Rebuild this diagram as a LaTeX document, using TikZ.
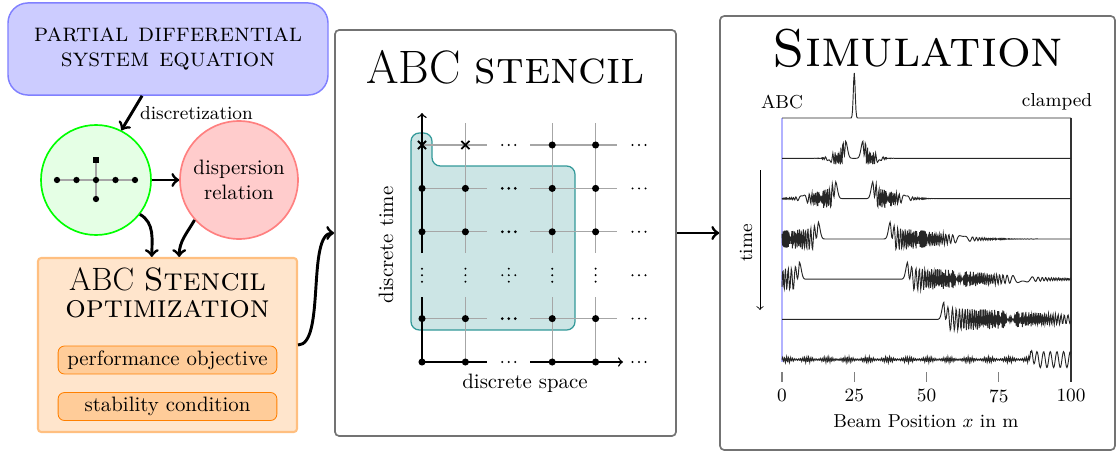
\documentclass[tikz,border=0pt]{standalone}
\usetikzlibrary{shapes.misc}
\begin{document}
\begin{tikzpicture}
  [x=0.48pt,y=0.48pt,
   flow/.style={->,line width=1.4pt},
   panel/.style={draw=black!55,line width=0.8pt,rounded corners=2pt},
   gridline/.style={black!35,line width=0.5pt},
   axis/.style={black,line width=0.7pt},
   dot/.style={circle,fill,inner sep=0pt,minimum size=3.4pt},
   xmark/.style={cross out,draw,inner sep=0pt,minimum size=3pt,line width=0.9pt},
   cond/.style={draw=orange,fill=orange!40,rounded corners=3pt,minimum width=105pt,minimum height=13.4pt,inner sep=0pt},
   trace/.style={black!85,line width=0.45pt},
   declare function={
     bump(\x,\p,\w)=exp(-(min(abs(\x-\p),6*\w)/\w)^2);
     sc(\s,\h)=min(max(\s,0),3*\h);
     osc(\s,\h)=-11*exp(-(sc(\s,\h)/\h)^2)*sin(deg(mod(6.2832*(sc(\s,\h)/2.2+2*sc(\s,\h)^2/\h),6.2832)));
     wave(\x,\p,\e,\h)=17*bump(\x,\p,0.9)+osc(\e*(\x-\p),\h);
   }]
\useasboundingbox (0,0) rectangle (1117,452);

\node (pde)[draw=blue!50,fill=blue!20,line width=0.7pt,rounded corners=9.6pt,
  minimum width=153.6pt,minimum height=44.2pt,align=center,
  font=\fontsize{12.4}{12}\selectfont] at (168,403)
  {\textsc{partial differential}\\\textsc{system equation}};
\node (disc)[circle,draw=green,fill=green!10,line width=0.8pt,minimum size=52.8pt] at (96,272) {};
\node (disp)[circle,draw=red!50,fill=red!20,line width=0.8pt,minimum size=52.8pt,align=center] at (239,272) {dispersion\\relation};
\node (opt)[draw=orange!50,fill=orange!20,line width=1pt,rounded corners=1.5pt,
  minimum width=124.3pt,minimum height=83.5pt] at (167.5,107) {};
\node (optt)[align=center,font=\fontsize{15.5}{12.8}\selectfont] at (167.5,159)
  {ABC \textsc{Stencil}\\\textsc{optimization}};
\node (perf)[cond] at (167.5,92) {performance objective};
\node (stab)[cond] at (167.5,45.5) {stability condition};

\draw[gridline] (57,272) -- (135,272) (96,292) -- (96,253);
\foreach \x [count=\i] in {57,76.5,96,115.5,135}
  \node (s\i)[dot,minimum size=3pt] at (\x,272) {};
\node (s6)[dot,minimum size=3pt] at (96,253) {};
\node (s7)[fill,inner sep=0pt,minimum size=3.2pt] at (96,292) {};

\node (stencil)[panel,minimum width=163.7pt,minimum height=194.9pt] at (505.5,219) {};
\node (stt)[font=\fontsize{22.5}{26}\selectfont] at (505.5,384.5) {ABC \textsc{stencil}};
\filldraw[fill=teal!20,draw=teal!80,line width=0.6pt,rounded corners=4pt]
  (411,122) -- (411,319) -- (432,319) -- (432,286) -- (575,286) -- (575,122) -- cycle;
\foreach \y in {307,263.6,220.2,133.4}
  \draw[gridline] (422,\y) -- (487,\y) (530,\y) -- (617,\y);
\foreach \x in {465.4,552.2,595.6}
  \draw[gridline] (\x,329) -- (\x,199) (\x,155) -- (\x,90);
\draw[axis] (422,90) -- (422,155) (422,90) -- (487,90);
\draw[axis,->] (422,199) -- (422,339);
\draw[axis,->] (530,90) -- (623,90);
\foreach \x [count=\i] in {422,465.4,552.2,595.6}
  \foreach \y [count=\j] in {263.6,220.2,133.4,90}
    \node (p\i\j)[dot] at (\x,\y) {};
\node (q1)[xmark] at (422,307) {};
\node (q2)[xmark] at (465.4,307) {};
\node (q3)[dot] at (552.2,307) {};
\node (q4)[dot] at (595.6,307) {};
\foreach \y/\r in {307/1.1,263.6/1.5,220.2/1.5,133.4/1.5,90/1.1}
  \foreach \k in {-6.5,0,6.5}
    \fill (508.8+\k,\y) circle (\r);
\foreach \y in {307,263.6,220.2,176.8,133.4,90}
  \foreach \k in {-6.5,0,6.5}
    \fill (639+\k,\y) circle (1.1);
\foreach \x in {422,465.4,508.8,552.2,595.6}
  \foreach \k in {-6.5,0,6.5}
    \fill (\x,176.8+\k) circle (1.1);
\foreach \k in {-6.5,6.5}
  \fill (508.8+\k,176.8) circle (1.1);
\node (dtime)[rotate=90] at (386,207) {discrete time};
\node (dspace) at (525,69) {discrete space};

\node (sim)[panel,minimum width=189.6pt,minimum height=208.3pt] at (917.5,219) {};
\node (simt)[font=\fontsize{25.5}{30}\selectfont] at (918,403.6) {\textsc{Simulation}};
\node (abc)[font=\small] at (782,350) {ABC};
\node (clamp)[font=\small] at (1057,350) {clamped};
\node (xlab)[font=\small] at (926,31) {Beam Position $x$ in m};
\node (tlab)[font=\small,rotate=90] at (746,209) {time};
\coordinate (t0) at (760,282);
\coordinate (t1) at (760,142);
\draw[->,line width=0.4pt] (t0) -- (t1);
\foreach \v in {0,25,50,75,100}
  \draw[black!50,line width=0.5pt] (782+2.89*\v,80) -- (782+2.89*\v,70)
    node (tick\v)[below,font=\small,text=black] {\v};
\draw[blue!30,line width=0.6pt] (782,334) -- (782,90);
\draw[black!80,line width=0.6pt] (1071,334) -- (1071,70);
\begin{scope}[shift={(782,0)},xscale=2.89]
  \draw[trace] plot[domain=0:100,samples=501] (\x,{334+45*bump(\x,25,0.45)});
  \draw[trace] plot[domain=0:100,samples=501] (\x,{293.7+wave(\x,22,-1,5)+wave(\x,28,1,5)});
  \draw[trace] plot[domain=0:100,samples=501] (\x,{253.4+wave(\x,18.5,-1,10)+wave(\x,31.5,1,10)});
  \draw[trace] plot[domain=0:100,samples=501] (\x,{213+wave(\x,12.5,-1,22)+wave(\x,37.5,1,22)});
  \draw[trace] plot[domain=0:100,samples=501] (\x,{172.8+wave(\x,6,-1,30)+wave(\x,43.5,1,35)});
  \draw[trace] plot[domain=0:100,samples=501] (\x,{132.6+wave(\x,56,1,45)});
  \draw[trace] plot[domain=0:100,samples=501]
    (\x,{92.4+(\x<86)*1.8*(1+0.6*sin(deg(mod(0.9*\x,6.2832))))*sin(deg(mod(9*\x,6.2832)))
      +9*bump(\x,86.5,0.7)-(\x>86.5)*8*sin(deg(mod(2.73*(\x-86.5),6.2832)))});
\end{scope}

\draw[flow] (pde.241) -- (disc.63) node (dlab)[midway,right,font=\small] {discretization};
\draw[flow] (disc.-38) to[out=-30,in=90] (disc.east |- opt.north);
\draw[flow] (disp.-138) to[out=-120,in=90] (disp.west |- opt.north);
\draw[flow] (opt.east) to[out=0,in=180,looseness=0.6] (stencil.west);
\foreach \from/\to in {disc/disp,stencil/sim}
  \draw[flow] (\from) -- (\to);
\end{tikzpicture}
\end{document}
